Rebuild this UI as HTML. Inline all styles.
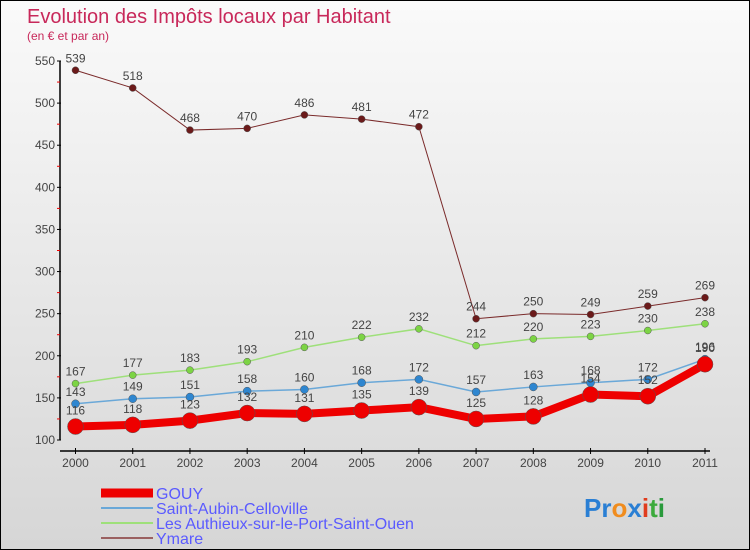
<!DOCTYPE html>
<html><head><meta charset="utf-8"><style>
body{margin:0}
#c{width:748px;height:548px;border:1px solid #000;background:linear-gradient(#fafafa,#d6d6d6);position:relative;font-family:"Liberation Sans",sans-serif;overflow:hidden}
</style></head><body>
<div id="c">
<svg width="748" height="548" id="s">
<text x="26" y="22" font-size="20" fill="#c8285a">Evolution des Impôts locaux par Habitant</text>
<text x="26" y="39" font-size="12" fill="#c8285a">(en € et par an)</text>
<g id="axes"></g><g id="series"></g><g id="legend"></g>
<text x="583" y="516" font-size="26" font-weight="bold"><tspan fill="#2a7fd4">Pr</tspan><tspan fill="#f08c1e">o</tspan><tspan fill="#2a7fd4">x</tspan><tspan fill="#e03c1e">i</tspan><tspan fill="#3caa3c">t</tspan><tspan fill="#2a9a3c">i</tspan></text>
</svg></div>
<script>
const years=[2000,2001,2002,2003,2004,2005,2006,2007,2008,2009,2010,2011];
const yTicks=[100,150,200,250,300,350,400,450,500,550];
const gouy=[116,118,123,132,131,135,139,125,128,154,152,190];
const saintAubin=[143,149,151,158,160,168,172,157,163,168,172,196];
const authieux=[167,177,183,193,210,222,232,212,220,223,230,238];
const ymare=[539,518,468,470,486,481,472,244,250,249,259,269];
const NS="http://www.w3.org/2000/svg";
const X=i=>74.5+i*(704-74.5)/11;
const Y=v=>439-(v-100)*(379/450);
function mk(t,a,p){const e=document.createElementNS(NS,t);for(const k in a)e.setAttribute(k,a[k]);p.appendChild(e);return e;}
const ax=document.getElementById('axes');
const yl=mk('line',{x1:59,y1:Y(550),x2:59,y2:Y(100),stroke:'#000','stroke-width':1.5},ax);


const xl=mk('line',{x1:59,y1:450,x2:709,y2:450,stroke:'#000','stroke-width':1.5},ax);


yTicks.forEach(v=>{
 mk('line',{x1:56,x2:60,y1:Y(v),y2:Y(v),stroke:'#000'},ax);
 if(v<550)mk('line',{x1:56,x2:59,y1:Y(v+25),y2:Y(v+25),stroke:'#e00'},ax);
 const t=mk('text',{x:54,y:Y(v)+4,'font-size':12,fill:'#444','text-anchor':'end'},ax);t.textContent=v;
 
 
});
years.forEach((y,i)=>{
 mk('line',{x1:X(i),x2:X(i),y1:447,y2:453,stroke:'#000'},ax);
 const t=mk('text',{x:X(i),y:466,'font-size':12,fill:'#444','text-anchor':'middle'},ax);t.textContent=y;
 
 
});
const sg=document.getElementById('series');
const series=[
 {n:'ymare',d:ymare,c:'#7a2a2a',f:'#6b1a1a',w:1,r:3.5},
 {n:'authieux',d:authieux,c:'#9ee07a',f:'#7cd444',w:1.5,r:3.5},
 {n:'saint-aubin',d:saintAubin,c:'#6aa8d8',f:'#2e86d0',w:1.5,r:4},
 {n:'gouy',d:gouy,c:'#ee0000',f:'#ee0000',w:8,r:8}];
series.forEach(s=>{
 const g=mk('g',{},sg);
 
 
 const p=mk('polyline',{points:s.d.map((v,i)=>X(i)+','+Y(v)).join(' '),fill:'none',stroke:s.c,'stroke-width':s.w},g);
 
 
 s.d.forEach((v,i)=>{
  const c=mk('circle',{cx:X(i),cy:Y(v),r:s.r,fill:s.f,stroke:'#555','stroke-width':0.5},g);
  
  
  const t=mk('text',{x:X(i),y:Y(v)-(s.n=='gouy'?12:8),'font-size':12,fill:'#444','text-anchor':'middle'},g);t.textContent=v;
  
  
 });
});
const lg=document.getElementById('legend');
[['GOUY','#ee0000',9],['Saint-Aubin-Celloville','#6aa8d8',2],['Les Authieux-sur-le-Port-Saint-Ouen','#9ee07a',2],['Ymare','#9a6060',2]].forEach((e,i)=>{
 const y=492+i*15;
 const g=mk('g',{},lg);
 
 
 mk('line',{x1:100,x2:152,y1:y,y2:y,stroke:e[1],'stroke-width':e[2]},g);
 const t=mk('text',{x:155,y:y+6,'font-size':16,fill:'#5a5aff'},g);t.textContent=e[0];
});
</script>
</body></html>
